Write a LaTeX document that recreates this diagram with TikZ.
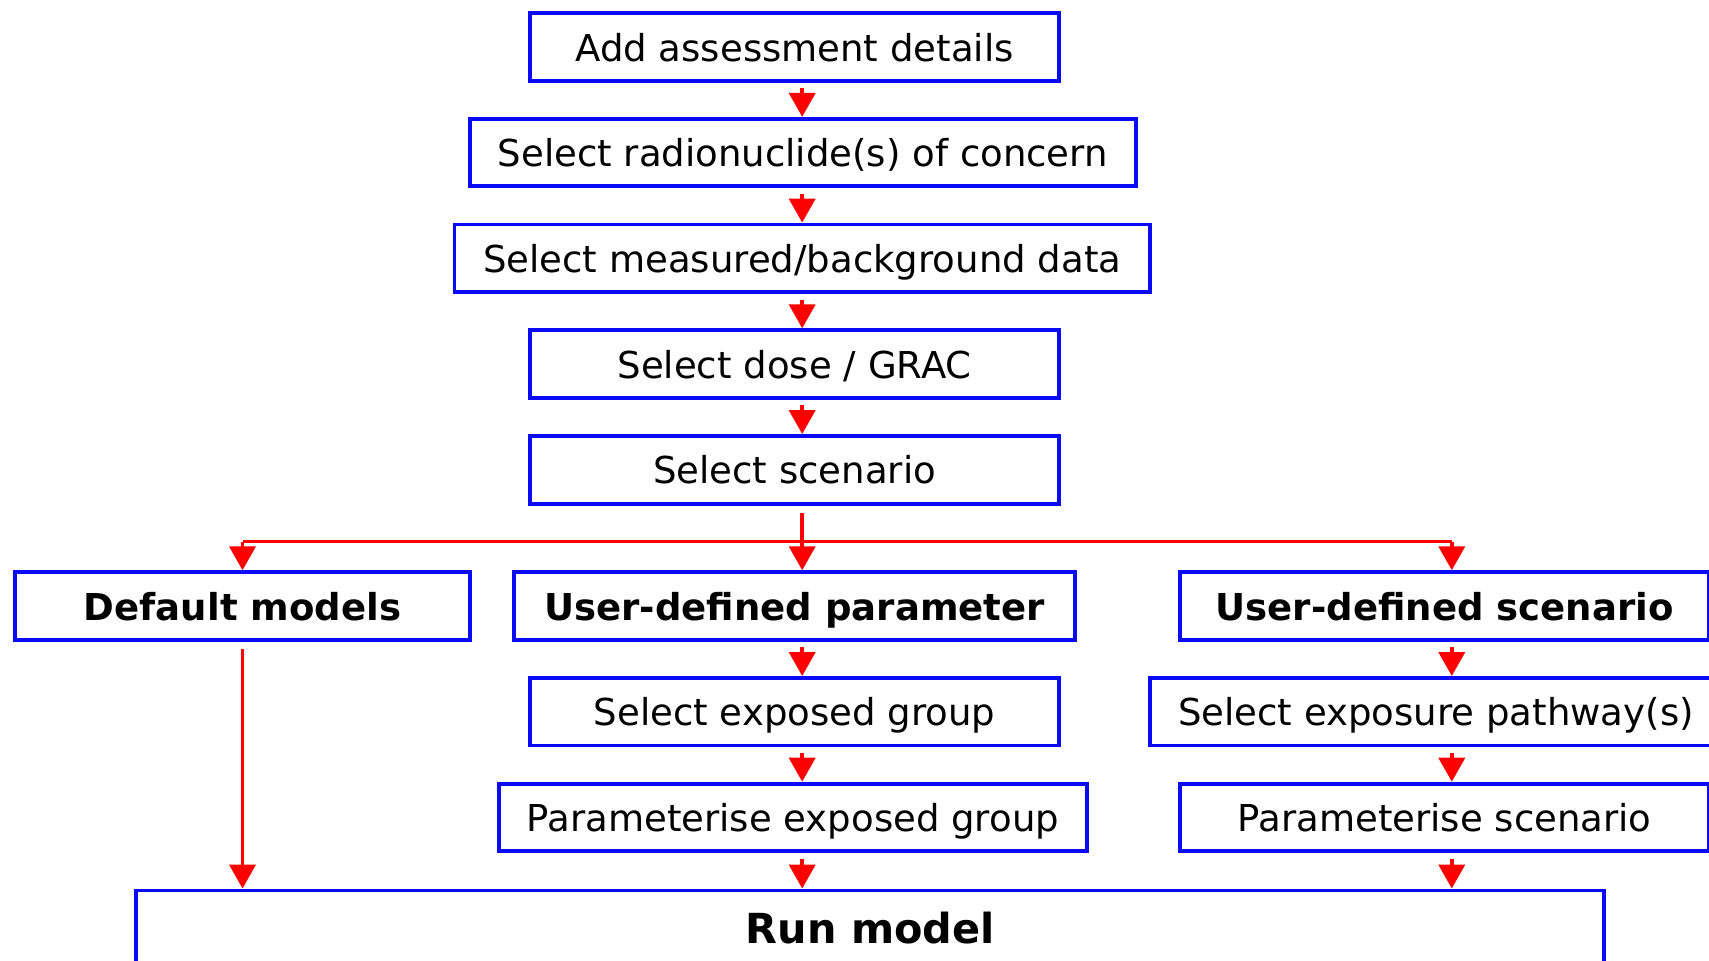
\documentclass[tikz,border=0pt]{standalone}
\usepackage{fontspec}
\setmainfont{DejaVu Sans}
\usetikzlibrary{arrows.meta}
\definecolor{boxblue}{RGB}{10,10,245}
\definecolor{flowred}{RGB}{255,0,0}
\tikzset{
  stepbox/.style={draw=boxblue, line width=3.6pt, fill=white, rectangle,
    minimum height=62pt, inner sep=0pt, text height=26pt, text depth=0pt,
    font=\fontsize{34}{40}\selectfont},
  headbox/.style={stepbox, font=\fontsize{34}{40}\selectfont\bfseries},
  flow/.style={draw=flowred, line width=3.2pt},
  flowarrow/.style={flow, -{Triangle[width=24pt,length=22pt]}, color=flowred},
}
\begin{document}
\begin{tikzpicture}[x=1pt, y=-1pt]
\useasboundingbox (0,0) rectangle (1568,881);

% main column
\node[stepbox, minimum width=486pt] (a1) at (729,43)   {Add assessment details};
\node[stepbox, minimum width=611pt] (a2) at (736.5,140) {Select radionuclide(s) of concern};
\node[stepbox, minimum width=638pt] (a3) at (736,237)  {Select measured/background data};
\node[stepbox, minimum width=486pt] (a4) at (729,334)  {Select dose / GRAC};
\node[stepbox, minimum width=486pt] (a5) at (729,431)  {Select scenario};

% three branches
\node[headbox, minimum width=417pt] (dm) at (222.5,556) {Default models};
\node[headbox, minimum width=514pt] (up) at (729,556)   {User-defined parameter};
\node[headbox, minimum width=485pt] (us) at (1325.5,556) {User-defined scenario};

\node[stepbox, minimum width=486pt] (eg) at (729,653)    {Select exposed group};
\node[stepbox, minimum width=525pt] (ep) at (1317.5,653) {Select exposure pathway(s)};
\node[stepbox, minimum width=539pt] (pe) at (727.5,750)  {Parameterise exposed group};
\node[stepbox, minimum width=485pt] (ps) at (1325.5,750) {Parameterise scenario};

\node[headbox, minimum width=1347pt, minimum height=70pt, text height=28pt,
      font=\fontsize{38}{44}\selectfont\bfseries] (rm) at (798.5,852) {Run model};

% guide lines for the connectors
\coordinate (spine)  at (736,0);
\coordinate (rspine) at (1332,0);
\coordinate (bus)    at (0,497);

% main column arrows
\draw[flowarrow] ([yshift=-5pt]a1.south -| spine) -- (a2.north -| spine);
\draw[flowarrow] ([yshift=-5pt]a2.south -| spine) -- (a3.north -| spine);
\draw[flowarrow] ([yshift=-5pt]a3.south -| spine) -- (a4.north -| spine);
\draw[flowarrow] ([yshift=-5pt]a4.south -| spine) -- (a5.north -| spine);

% split into the three branches
\draw[flow] ([yshift=-7pt]a5.south -| spine) -- (bus -| spine);
\draw[flow] (bus -| dm.north) -- (bus -| rspine);
\draw[flowarrow] (bus -| dm.north) -- (dm.north);
\draw[flowarrow] (bus -| spine) -- (up.north -| spine);
\draw[flowarrow] (bus -| rspine) -- (us.north -| rspine);

% default models straight to the run
\draw[flowarrow] ([yshift=-7pt]dm.south) -- (dm.south |- rm.north);

% user-defined parameter branch
\draw[flowarrow] ([yshift=-5pt]up.south -| spine) -- (eg.north -| spine);
\draw[flowarrow] ([yshift=-5pt]eg.south -| spine) -- (pe.north -| spine);
\draw[flowarrow] ([yshift=-5pt]pe.south -| spine) -- (rm.north -| spine);

% user-defined scenario branch
\draw[flowarrow] ([yshift=-5pt]us.south -| rspine) -- (ep.north -| rspine);
\draw[flowarrow] ([yshift=-5pt]ep.south -| rspine) -- (ps.north -| rspine);
\draw[flowarrow] ([yshift=-5pt]ps.south -| rspine) -- (rm.north -| rspine);
\end{tikzpicture}
\end{document}
